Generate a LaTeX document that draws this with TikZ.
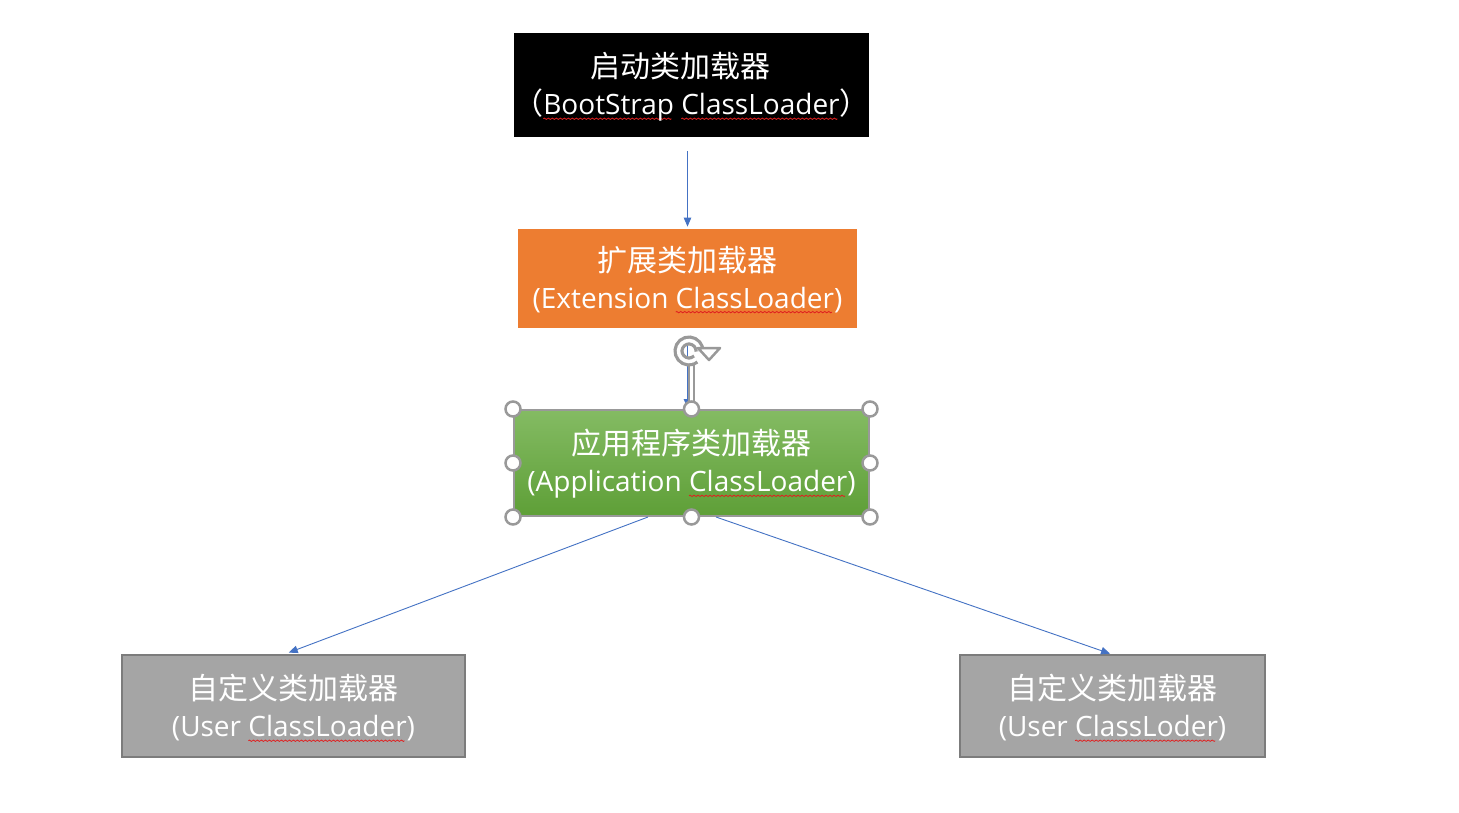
\documentclass[tikz,border=0pt]{standalone}
\usepackage{fontspec}
\setmainfont{Open Sans}
\newfontfamily\cjk{Noto Sans CJK SC}
\usetikzlibrary{arrows.meta}
\definecolor{conn}{HTML}{4472C4}
\definecolor{orangefill}{HTML}{ED7D31}
\definecolor{greentop}{HTML}{84BB63}
\definecolor{greenbot}{HTML}{5E9F37}
\definecolor{grayfill}{HTML}{A5A5A5}
\definecolor{grayline}{HTML}{7C7C7C}
\definecolor{handle}{HTML}{999999}
\definecolor{spell}{HTML}{E02020}
\newsavebox{\wavebox}
\newcommand{\cj}[1]{{\fontsize{30}{37}\selectfont\cjk #1}}
\newcommand{\squig}[1]{\setbox0\hbox{#1}\rlap{\raisebox{-5pt}{\hbox to \wd0{\leaders\copy\wavebox\hfil}}}\box0\relax}
\tikzset{
  x=1pt, y=-1pt,
  box/.style={rectangle, inner sep=0pt},
  boxtext/.style={inner sep=0pt, align=center, text=white,
    font=\fontsize{28}{37}\selectfont},
  link/.style={draw=conn, line width=0.9pt, -{Triangle[length=9pt,width=7.5pt]}},
  selhandle/.style={circle, draw=handle, fill=white, line width=2.5pt, minimum size=15pt, inner sep=0pt}
}
\begin{document}
\begin{tikzpicture}
\global\setbox\wavebox\hbox{\begin{pgfpicture}
  \pgfpathrectangle{\pgfpoint{0pt}{-1pt}}{\pgfpoint{4pt}{2pt}}
  \pgfusepath{use as bounding box}
  \pgfsetlinewidth{0.8pt}
  \pgfsetstrokecolor{spell}
  \pgfpathmoveto{\pgfpoint{0pt}{0pt}}
  \pgfpathcurveto{\pgfpoint{0.5pt}{0.9pt}}{\pgfpoint{1.5pt}{0.9pt}}{\pgfpoint{2pt}{0pt}}
  \pgfpathcurveto{\pgfpoint{2.5pt}{-0.9pt}}{\pgfpoint{3.5pt}{-0.9pt}}{\pgfpoint{4pt}{0pt}}
  \pgfusepath{stroke}
\end{pgfpicture}}
\useasboundingbox (0,0) rectangle (1459,812);
\fill[white] (0,0) rectangle (1459,812);
% boxes
\node[box, fill=black, minimum width=355pt, minimum height=104pt] (boot) at (691.5,84) {};
\node[box, fill=orangefill, minimum width=339pt, minimum height=99pt] (ext) at (687.5,277.5) {};
\node[box, top color=greentop, bottom color=greenbot, draw=handle, line width=2pt,
  minimum width=355pt, minimum height=106pt] (app) at (691.5,462) {};
\node[box, fill=grayfill, draw=grayline, line width=2pt, minimum width=343pt, minimum height=102pt] (userA) at (293.5,705) {};
\node[box, fill=grayfill, draw=grayline, line width=2pt, minimum width=305pt, minimum height=102pt] (userB) at (1112.5,705) {};
% texts
\node[boxtext] (bootT) at ([yshift=-2pt]boot.center)
  {\cj{启动类加载器}\hspace*{23pt}\\\cj{（}\squig{BootStrap} \squig{ClassLoader}\cj{）}};
\node[boxtext] (extT) at ([yshift=-1pt]ext.center)
  {\cj{扩展类加载器}\\(Extension \squig{ClassLoader})};
\node[boxtext] (appT) at ([yshift=-1pt]app.center)
  {\cj{应用程序类加载器}\\(Application \squig{ClassLoader})};
\node[boxtext] (userAT) at ([yshift=-2pt]userA.center)
  {\cj{自定义类加载器}\\(User \squig{ClassLoader})};
\node[boxtext] (userBT) at ([yshift=-2pt]userB.center)
  {\cj{自定义类加载器}\\(User \squig{ClassLoder})};
% connectors
\draw[link, shorten <=14pt, shorten >=2pt] (boot.south -| ext.north) -- (ext.north);
\draw[link, shorten <=16pt, shorten >=1pt] (ext.south) -- (app.north -| ext.south);
\draw[link, shorten >=4pt] ([xshift=-43.5pt]app.south) -- ([xshift=-8.5pt]userA.north);
\draw[link, shorten >=1pt] ([xshift=24.5pt]app.south) -- ([xshift=-1.5pt]userB.north);
% rotation handle
\draw[handle, line width=7pt] (691.5,362) -- (app.north -| 691.5,0);
\draw[white, line width=2.5pt] (691.5,364) -- (691.5,401);
\begin{scope}[shift={(689,350)}, yscale=-1]
  \draw[handle, line width=10pt] (-50:10.5) arc[start angle=-50, end angle=-360, radius=10.5];
  \draw[white, line width=3.5pt] (-47:10.5) arc[start angle=-47, end angle=-357, radius=10.5];
  \draw[handle, line width=2.5pt, fill=white, line join=round] (9,3) -- (31,3) -- (20,-9) -- cycle;
\end{scope}
% selection handles
\foreach \a in {north west,north,north east,west,east,south west,south,south east}
  \node[selhandle] at (app.\a) {};
\end{tikzpicture}
\end{document}
